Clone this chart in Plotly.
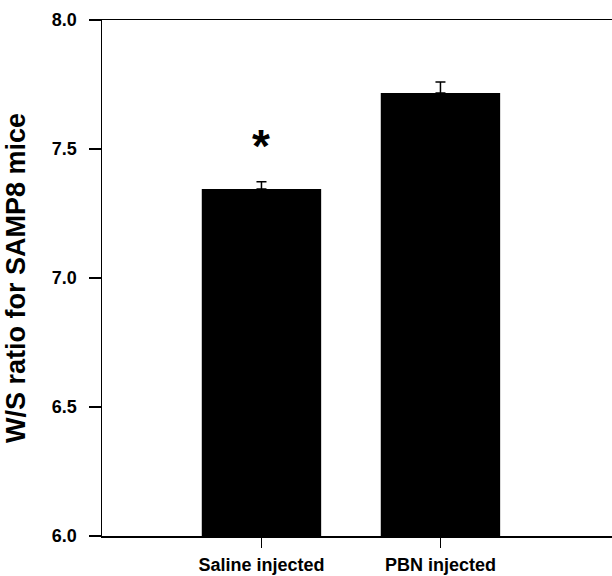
import plotly.graph_objects as go

categories = ["Saline injected", "PBN injected"]
ws_ratio = [7.345, 7.717]
sem = [0.028, 0.043]
y_ticks = [6.0, 6.5, 7.0, 7.5, 8.0]
sig_label = "*"
sig_y = 7.51

fig = go.Figure()
fig.add_trace(go.Bar(
    x=categories, y=ws_ratio,
    width=0.667,
    marker=dict(color="black", line=dict(width=0)),
    error_y=dict(type="data", array=sem, arrayminus=[0, 0], color="black", thickness=1.5, width=5),
    showlegend=False,
))
fig.add_annotation(x=categories[0], y=sig_y, text=sig_label, showarrow=False,
                   font=dict(size=46, color="black", family="Liberation Sans, Arial", weight="bold"),
                   yanchor="middle", xanchor="center")

fig.update_layout(
    width=630, height=576,
    margin=dict(l=102, r=0, t=20, b=40, autoexpand=False),
    plot_bgcolor="white", paper_bgcolor="white",
    font=dict(family="Liberation Sans, Arial, sans-serif", color="black", size=18, weight="bold"),
    xaxis=dict(
        range=[-0.891, 2.059],
        showline=True, linecolor="black", linewidth=1.5, mirror=True,
        ticks="outside", ticklen=10, tickwidth=1.5, tickcolor="black",
        showgrid=False, zeroline=False,
        tickfont=dict(size=18, weight="bold"),
        ticklabelstandoff=2,
    ),
    yaxis=dict(
        range=[6.0, 8.0],
        tickvals=y_ticks, ticktext=[f"{v:.1f}" for v in y_ticks],
        showline=True, linecolor="black", linewidth=1.5,
        ticks="outside", ticklen=12, tickwidth=1.5, tickcolor="black",
        showgrid=False, zeroline=False,
        tickfont=dict(size=18, weight="bold"),
        ticklabelstandoff=8,
        title=dict(text="W/S ratio for SAMP8 mice", font=dict(size=27, weight="bold"), standoff=18),
    ),
    bargap=0.33,
)

fig.write_html("out.html", config={"displayModeBar": False, "staticPlot": True})

with open("out.html", "r", encoding="utf-8") as f:
    html = f.read()
html = html.replace("<head>", "<head><style>html,body{margin:0;padding:0;overflow:hidden;}</style>", 1)
with open("out.html", "w", encoding="utf-8") as f:
    f.write(html)
